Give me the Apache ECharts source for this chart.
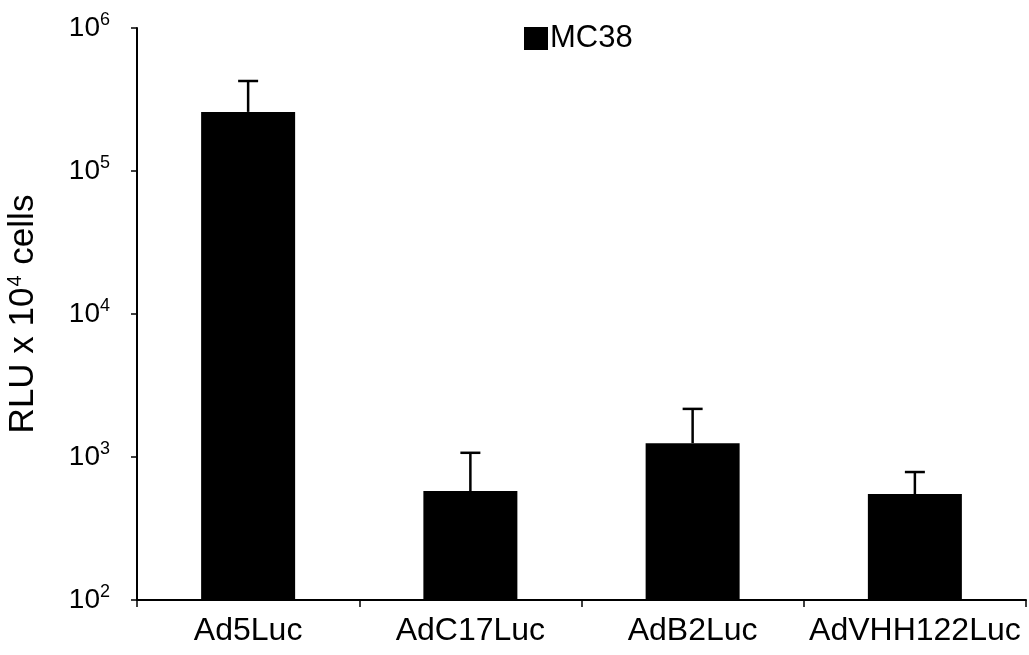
<!DOCTYPE html>
<html>
<head>
<meta charset="utf-8">
<script src="https://cdn.jsdelivr.net/npm/echarts@6/dist/echarts.min.js"></script>
<style>
  html, body { margin: 0; padding: 0; background: #fff; }
  #chart { width: 1029px; height: 655px; }
</style>
</head>
<body>
<div id="chart"></div>
<script>
var categories = ['Ad5Luc', 'AdC17Luc', 'AdB2Luc', 'AdVHH122Luc'];
var means = [259000, 578, 1250, 551];
var upper = [426000, 1070, 2170, 785];
var seriesName = 'MC38';

var FONT = 'Liberation Sans, Arial, sans-serif';
var chart = echarts.init(document.getElementById('chart'));

var errData = [];
for (var i = 0; i < categories.length; i++) {
  errData.push([i, means[i], upper[i]]);
}

function renderError(params, api) {
  var top = api.coord([api.value(0), api.value(2)]);
  var base = api.coord([api.value(0), api.value(1)]);
  var half = 10;
  var style = { stroke: '#000', lineWidth: 2.5 };
  return {
    type: 'group',
    children: [
      { type: 'line', shape: { x1: base[0], y1: base[1], x2: top[0], y2: top[1] }, style: style },
      { type: 'line', shape: { x1: top[0] - half, y1: top[1], x2: top[0] + half, y2: top[1] }, style: style }
    ]
  };
}

var option = {
  backgroundColor: '#fff',
  animation: false,
  textStyle: { fontFamily: FONT, color: '#000' },
  grid: { left: 137, right: 3, top: 28, bottom: 55, containLabel: false, outerBoundsMode: 'none' },
  legend: {
    data: [{ name: seriesName, icon: 'rect' }],
    top: 18,
    left: 519,
    itemWidth: 24,
    itemHeight: 23,
    itemGap: 2,
    textStyle: { fontSize: 31, color: '#000', fontFamily: FONT, padding: [0, 0, 0, -3] }
  },
  xAxis: {
    type: 'category',
    data: categories,
    axisLine: { lineStyle: { color: '#000', width: 2 } },
    axisTick: { show: true, inside: false, interval: 0, length: 7, alignWithLabel: false, lineStyle: { color: '#000', width: 1.5 } },
    axisLabel: { interval: 0, fontSize: 32, color: '#000', margin: 15, fontFamily: FONT }
  },
  yAxis: {
    type: 'log',
    logBase: 10,
    min: 100,
    max: 1000000,
    name: '{a|RLU x 10}{s|4}{a| cells}',
    nameLocation: 'middle',
    nameGap: 95,
    nameRotate: 90,
    nameTextStyle: {
      rich: {
        a: { fontSize: 35, color: '#000', fontFamily: FONT },
        s: { fontSize: 20, color: '#000', verticalAlign: 'top', padding: [0, 1, 17, 1], fontFamily: FONT }
      }
    },
    axisLine: { show: true, lineStyle: { color: '#000', width: 2 } },
    axisTick: { show: true, length: 6, lineStyle: { color: '#000', width: 1.5 } },
    splitLine: { show: false },
    minorTick: { show: false },
    axisLabel: {
      margin: 27,
      formatter: function (v) {
        var e = Math.round(Math.log(v) / Math.LN10);
        return '{b|10}{s|' + e + '}';
      },
      rich: {
        b: { fontSize: 28, color: '#000', fontFamily: FONT },
        s: { fontSize: 18, color: '#000', verticalAlign: 'top', padding: [0, 0, 16, 0], fontFamily: FONT }
      }
    }
  },
  series: [
    {
      name: seriesName,
      type: 'bar',
      data: means,
      barWidth: 94,
      clip: true,
      itemStyle: { color: '#000' }
    },
    {
      type: 'custom',
      data: errData,
      renderItem: renderError,
      encode: { x: 0, y: [1, 2] },
      z: 3
    }
  ]
};

chart.setOption(option);
</script>
</body>
</html>
